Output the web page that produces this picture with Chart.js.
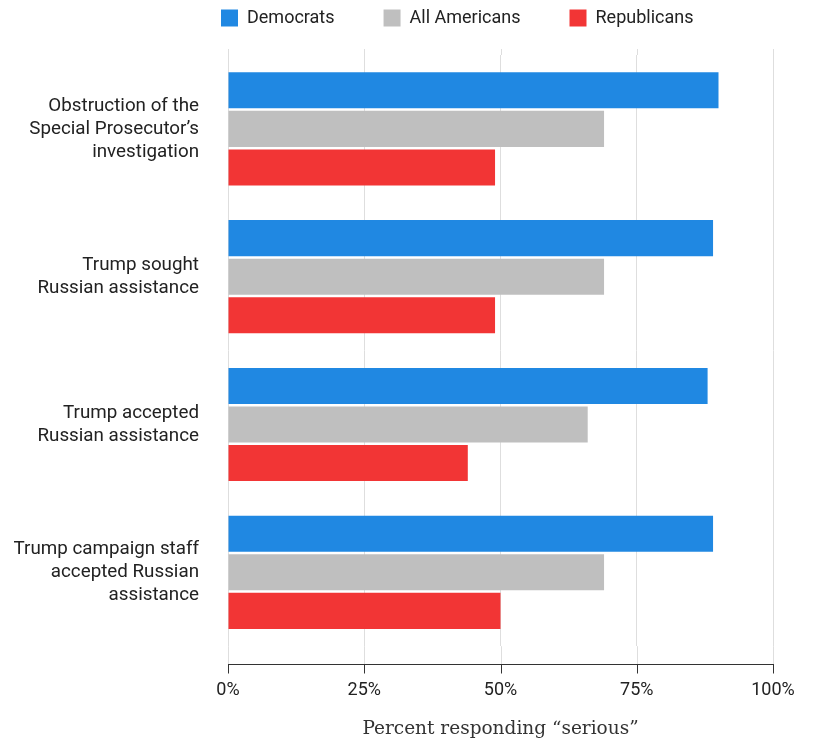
<!DOCTYPE html>
<html>
<head>
<meta charset="utf-8">
<script src="https://cdn.jsdelivr.net/npm/chart.js@4/dist/chart.umd.min.js"></script>
<style>
  html, body { margin: 0; padding: 0; background: #fff; }
  #wrap { width: 816px; height: 740px; position: relative; }
</style>
</head>
<body>
<div id="wrap"><canvas id="surveyChart"></canvas></div>
<script>
// categories (y axis), one label per line
var categories = [
    ['Obstruction of the', 'Special Prosecutor\u2019s', 'investigation'],
    ['Trump sought', 'Russian assistance'],
    ['Trump accepted', 'Russian assistance'],
    ['Trump campaign staff', 'accepted Russian', 'assistance']
];

// percent responding "serious"
var democrats    = [90, 89, 88, 89];
var allAmericans = [69, 69, 66, 69];
var republicans  = [49, 49, 44, 50];

var xTicks = [0, 25, 50, 75, 100];

var gridColor = '#dedede';
var axisColor = '#333333';
var textColor = '#222222';

// gridlines run a bit past the bars, axis line sits below them
var gridExtend = {
    id: 'gridExtend',
    beforeDatasetsDraw: function (chart) {
        var ctx = chart.ctx;
        var area = chart.chartArea;
        var x = chart.scales.x;
        var axisY = Math.round(area.bottom + 18) + 0.5;
        ctx.save();
        ctx.lineWidth = 1;
        x.ticks.forEach(function (t) {
            var px = Math.round(x.getPixelForValue(t.value)) + 0.5;
            ctx.strokeStyle = gridColor;
            ctx.beginPath();
            ctx.moveTo(px, area.top - 6);
            ctx.lineTo(px, area.top);
            ctx.moveTo(px, area.bottom);
            ctx.lineTo(px, axisY);
            ctx.stroke();
            ctx.strokeStyle = axisColor;
            ctx.beginPath();
            ctx.moveTo(px, axisY);
            ctx.lineTo(px, axisY + 9);
            ctx.stroke();
        });
        ctx.strokeStyle = axisColor;
        ctx.beginPath();
        ctx.moveTo(Math.round(x.getPixelForValue(0)), axisY);
        ctx.lineTo(Math.round(x.getPixelForValue(100)) + 1, axisY);
        ctx.stroke();
        ctx.restore();
    }
};

// legend: taller box so the plot starts lower, and placed over the plot
var legendTweak = {
    id: 'legendTweak',
    beforeLayout: function (chart) {
        var lg = chart.legend;
        if (lg && !lg._patched) {
            var fit = lg.fit;
            lg.fit = function () {
                fit.call(this);
                this.height = 55;
            };
            lg._patched = true;
        }
    },
    afterLayout: function (chart) {
        var lg = chart.legend;
        var pad = lg.options.labels.padding;
        var shift = 221 - (lg.left + pad);
        lg.left += shift;
        lg.right += shift;
        lg.top = 9 - pad;
    }
};

document.addEventListener('DOMContentLoaded', function () {
    var ctx = document.getElementById('surveyChart').getContext('2d');

    new Chart(ctx, {
        type: 'bar',
        data: {
            labels: categories,
            datasets: [{
                label: 'Democrats',
                data: democrats,
                backgroundColor: '#2088e2'
            }, {
                label: 'All Americans',
                data: allAmericans,
                backgroundColor: '#bfbfbf'
            }, {
                label: 'Republicans',
                data: republicans,
                backgroundColor: '#f23535'
            }]
        },
        options: {
            indexAxis: 'y',
            responsive: true,
            maintainAspectRatio: false,
            animation: false,
            datasets: {
                bar: {
                    barPercentage: 0.935,
                    categoryPercentage: 0.783
                }
            },
            layout: {
                padding: { left: 14, right: 43, top: 0, bottom: 0 }
            },
            plugins: {
                legend: {
                    position: 'top',
                    align: 'start',
                    labels: {
                        boxWidth: 17,
                        boxHeight: 17,
                        padding: 49,
                        color: textColor,
                        font: { family: 'Roboto', size: 18 }
                    }
                },
                tooltip: { enabled: false }
            },
            scales: {
                x: {
                    min: 0,
                    max: 100,
                    afterBuildTicks: function (scale) {
                        scale.ticks = xTicks.map(function (v) { return { value: v }; });
                    },
                    grid: {
                        color: gridColor,
                        lineWidth: 1,
                        drawTicks: true,
                        tickLength: 27,
                        tickColor: 'rgba(0,0,0,0)'
                    },
                    border: { display: false },
                    ticks: {
                        padding: 6,
                        color: textColor,
                        font: { family: 'Roboto', size: 18 },
                        callback: function (v) { return v + '%'; }
                    },
                    title: {
                        display: true,
                        text: 'Percent responding \u201cserious\u201d',
                        color: '#333333',
                        font: { family: 'DejaVu Serif', size: 18.5 },
                        padding: { top: 11, bottom: 0 }
                    }
                },
                y: {
                    grid: { display: false, drawTicks: false },
                    border: { display: false },
                    afterFit: function (scale) {
                        scale.width = 214;
                        scale.paddingTop = 0;
                        scale.paddingBottom = 0;
                    },
                    ticks: {
                        padding: 29,
                        color: textColor,
                        font: { family: 'Roboto', size: 18.8, lineHeight: 1.22 }
                    }
                }
            }
        },
        plugins: [gridExtend, legendTweak]
    });
});
</script>
</body>
</html>
